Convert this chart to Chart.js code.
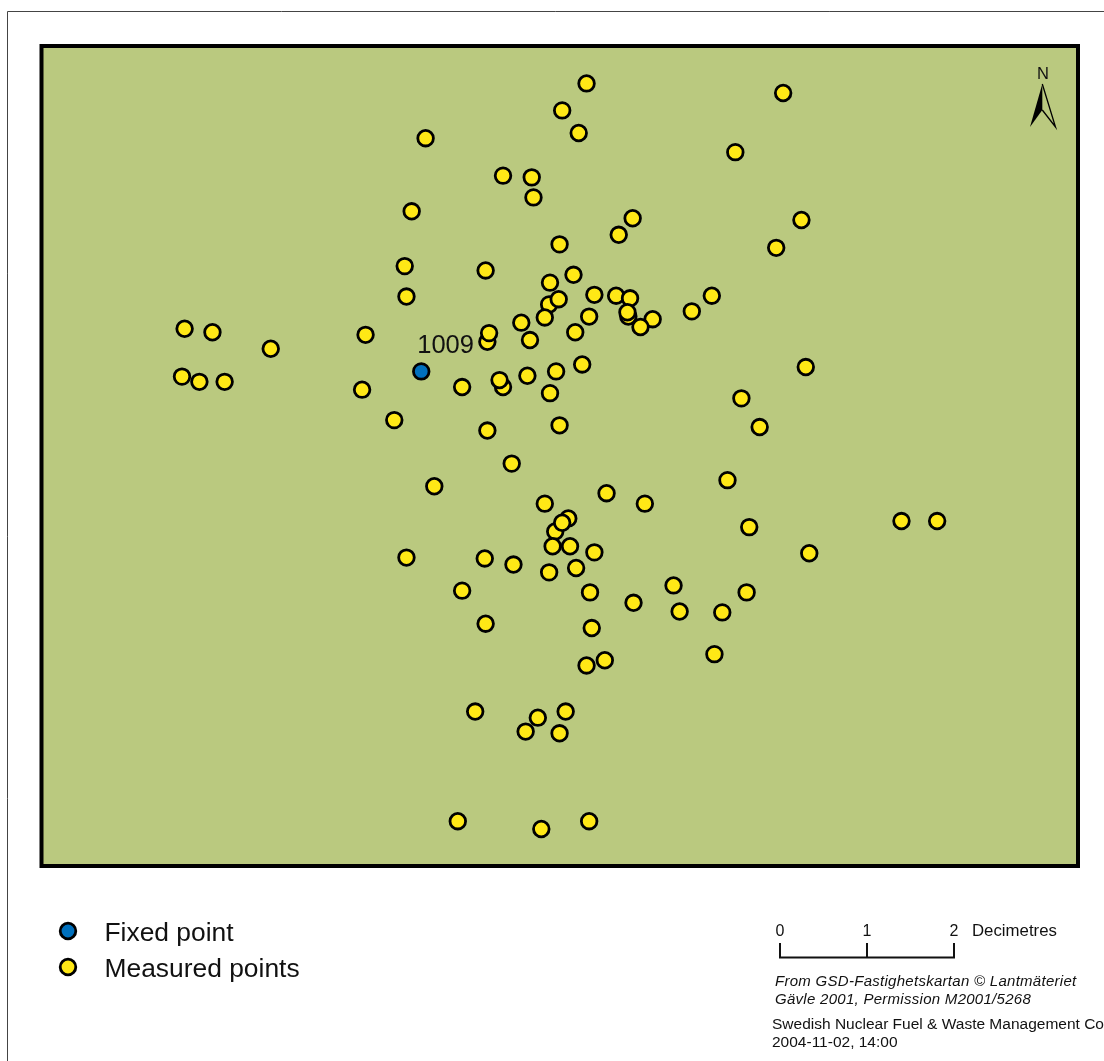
<!DOCTYPE html>
<html>
<head>
<meta charset="utf-8">
<title>Fixed and measured points</title>
<script src="https://cdn.jsdelivr.net/npm/chart.js@4"></script>
<style>
html, body { margin: 0; padding: 0; background: #fff; overflow: hidden; }
canvas { display: block; }
</style>
</head>
<body>
<canvas id="map" width="1104" height="1061"></canvas>
<script>
// positions in decimetres, from the lower left corner of the map
const fixedX = [4.36]
const fixedY = [5.69]
const fixedNames = ["1009"]

const measuredX = [6.26, 5.98, 6.17, 4.41, 8.52, 7.97, 5.30, 5.63, 5.65, 4.25, 6.79, 6.63, 8.73, 8.44, 5.95, 4.17,
    5.10, 6.11, 5.84, 4.19, 6.35, 6.60, 6.76, 7.70, 5.83, 5.94, 5.78, 6.29, 6.74, 6.73, 7.02, 6.88,
    7.47, 5.51, 6.13, 5.12, 5.14, 5.61, 3.72, 1.64, 1.96, 2.63, 6.21, 5.91, 5.58, 5.30, 5.26, 4.83,
    5.84, 8.78, 3.68, 1.61, 1.81, 2.10, 4.05, 8.04, 8.25, 5.95, 5.12, 5.40, 4.51, 7.88, 6.49, 6.93,
    5.78, 6.05, 5.90, 5.98, 8.13, 9.88, 10.29, 5.87, 6.07, 6.35, 8.82, 4.19, 5.09, 5.42, 5.83, 6.14,
    7.26, 4.83, 6.30, 8.10, 6.80, 7.33, 7.82, 5.10, 6.32, 7.73, 6.47, 6.26, 4.98, 6.02, 5.70, 5.56,
    5.95, 4.78, 5.74, 6.29]
const measuredY = [9.00, 8.69, 8.43, 8.37, 8.89, 8.21, 7.94, 7.92, 7.69, 7.53, 7.45, 7.26, 7.43, 7.11, 7.15, 6.90,
    6.85, 6.80, 6.71, 6.55, 6.57, 6.56, 6.53, 6.56, 6.46, 6.52, 6.31, 6.32, 6.32, 6.37, 6.29, 6.20,
    6.38, 6.25, 6.14, 6.03, 6.13, 6.05, 6.11, 6.18, 6.14, 5.95, 5.77, 5.69, 5.64, 5.51, 5.59, 5.51,
    5.44, 5.74, 5.48, 5.63, 5.57, 5.57, 5.13, 5.38, 5.05, 5.07, 5.01, 4.63, 4.37, 4.44, 4.29, 4.17,
    4.17, 4.00, 3.85, 3.95, 3.90, 3.97, 3.97, 3.68, 3.68, 3.61, 3.60, 3.55, 3.54, 3.47, 3.38, 3.43,
    3.23, 3.17, 3.15, 3.15, 3.03, 2.93, 2.92, 2.79, 2.74, 2.44, 2.37, 2.31, 1.78, 1.78, 1.71, 1.55,
    1.53, 0.52, 0.43, 0.52]

const legendNames = ["Fixed point", "Measured points"]
const scaleTicks = [0, 1, 2]
const scaleUnit = "Decimetres"
const creditLines = ["From GSD-Fastighetskartan © Lantmäteriet", "Gävle 2001, Permission M2001/5268"]
const ownerLines = ["Swedish Nuclear Fuel & Waste Management Co", "2004-11-02, 14:00"]

const FONT = '"Liberation Sans", Arial, sans-serif'
const MAP_COLOR = "#bac97f"
const FIXED_COLOR = "#0070bd"
const MEASURED_COLOR = "#ffe816"
const MARKER_RADIUS = 7.8
const MARKER_LINE = 2.8

function toPoints(xs, ys){
    return xs.map((x, i) => ({x: x, y: ys[i]}))
}

function drawMarker(ctx, x, y, color){
    ctx.beginPath()
    ctx.arc(x, y, MARKER_RADIUS, 0, Math.PI * 2)
    ctx.fillStyle = color
    ctx.fill()
    ctx.lineWidth = MARKER_LINE
    ctx.strokeStyle = "#000"
    ctx.stroke()
}

function putText(ctx, text, x, y, font, color, align, spacing){
    ctx.font = font
    ctx.fillStyle = color || "#111"
    ctx.textAlign = align || "left"
    ctx.textBaseline = "alphabetic"
    ctx.letterSpacing = spacing || "0px"
    ctx.fillText(text, x, y)
    ctx.letterSpacing = "0px"
}

const mapBackground = {
    id: "mapBackground",
    beforeDatasetsDraw(chart){
        const ctx = chart.ctx
        const area = chart.chartArea
        ctx.save()
        // page frame, it runs off the right and bottom of the picture
        ctx.strokeStyle = "#444"
        ctx.lineWidth = 1
        ctx.beginPath()
        ctx.moveTo(7.5, 1061)
        ctx.lineTo(7.5, 11.5)
        ctx.lineTo(1104, 11.5)
        ctx.stroke()

        ctx.fillStyle = MAP_COLOR
        ctx.fillRect(area.left, area.top, area.width, area.height)
        ctx.strokeStyle = "#000"
        ctx.lineWidth = 4
        ctx.strokeRect(area.left, area.top, area.width, area.height)
        ctx.restore()
    }
}

const mapDecor = {
    id: "mapDecor",
    afterDatasetsDraw(chart){
        const ctx = chart.ctx
        const xScale = chart.scales.x
        const yScale = chart.scales.y
        ctx.save()

        // name of the fixed point
        putText(ctx, fixedNames[0], xScale.getPixelForValue(fixedX[0]) - 4, yScale.getPixelForValue(fixedY[0]) - 18, `25.5px ${FONT}`)

        // north arrow
        putText(ctx, "N", 1043, 79, `16.5px ${FONT}`, "#111", "center")
        ctx.beginPath()
        ctx.moveTo(1042.3, 84)
        ctx.lineTo(1030, 127)
        ctx.lineTo(1042.3, 110)
        ctx.closePath()
        ctx.fillStyle = "#000"
        ctx.fill()
        ctx.beginPath()
        ctx.moveTo(1042.3, 84)
        ctx.lineTo(1055.5, 127)
        ctx.lineTo(1042.3, 110)
        ctx.strokeStyle = "#000"
        ctx.lineWidth = 1.3
        ctx.stroke()

        // legend
        const rows = [[FIXED_COLOR, 931, 941], [MEASURED_COLOR, 967, 977]]
        rows.forEach((row, i) => {
            drawMarker(ctx, 68, row[1], row[0])
            putText(ctx, legendNames[i], 104.5, row[2], `26.4px ${FONT}`)
        })

        // scale bar, length comes from the x scale
        const dm = xScale.getPixelForValue(1) - xScale.getPixelForValue(0)
        const barLeft = 780
        const barY = 957.5
        ctx.strokeStyle = "#111"
        ctx.lineWidth = 2
        ctx.beginPath()
        ctx.moveTo(barLeft, barY)
        ctx.lineTo(barLeft + dm * scaleTicks[scaleTicks.length - 1], barY)
        scaleTicks.forEach(t => {
            ctx.moveTo(barLeft + dm * t, barY + 1)
            ctx.lineTo(barLeft + dm * t, 943)
        })
        ctx.stroke()
        scaleTicks.forEach(t => {
            putText(ctx, String(t), barLeft + dm * t, 936, `16px ${FONT}`, "#111", "center")
        })
        putText(ctx, scaleUnit, 972, 936, `16.8px ${FONT}`)

        // credits
        creditLines.forEach((line, i) => {
            putText(ctx, line, 775, 986 + i * 18, `italic 15px ${FONT}`, "#111", "left", "0.28px")
        })
        ownerLines.forEach((line, i) => {
            putText(ctx, line, 772, 1029 + i * 18, `15.5px ${FONT}`)
        })
        ctx.restore()
    }
}

function pointStyle(color){
    return {
        pointRadius: MARKER_RADIUS,
        pointHoverRadius: MARKER_RADIUS,
        pointBorderWidth: MARKER_LINE,
        pointBorderColor: "#000",
        pointBackgroundColor: color,
        showLine: false
    }
}

new Chart(document.querySelector("#map"), {
    type: "scatter",
    data: {
        datasets: [
            {label: legendNames[0], data: toPoints(fixedX, fixedY), ...pointStyle(FIXED_COLOR)},
            {label: legendNames[1], data: toPoints(measuredX, measuredY), ...pointStyle(MEASURED_COLOR)}
        ]
    },
    options: {
        responsive: false,
        animation: false,
        layout: {padding: {left: 41.5, right: 26, top: 46, bottom: 195}},
        plugins: {legend: {display: false}, tooltip: {enabled: false}},
        scales: {
            x: {type: "linear", display: false, min: -0.005, max: 11.909},
            y: {type: "linear", display: false, min: 0.005, max: 9.43}
        }
    },
    plugins: [mapBackground, mapDecor]
})
</script>
</body>
</html>
